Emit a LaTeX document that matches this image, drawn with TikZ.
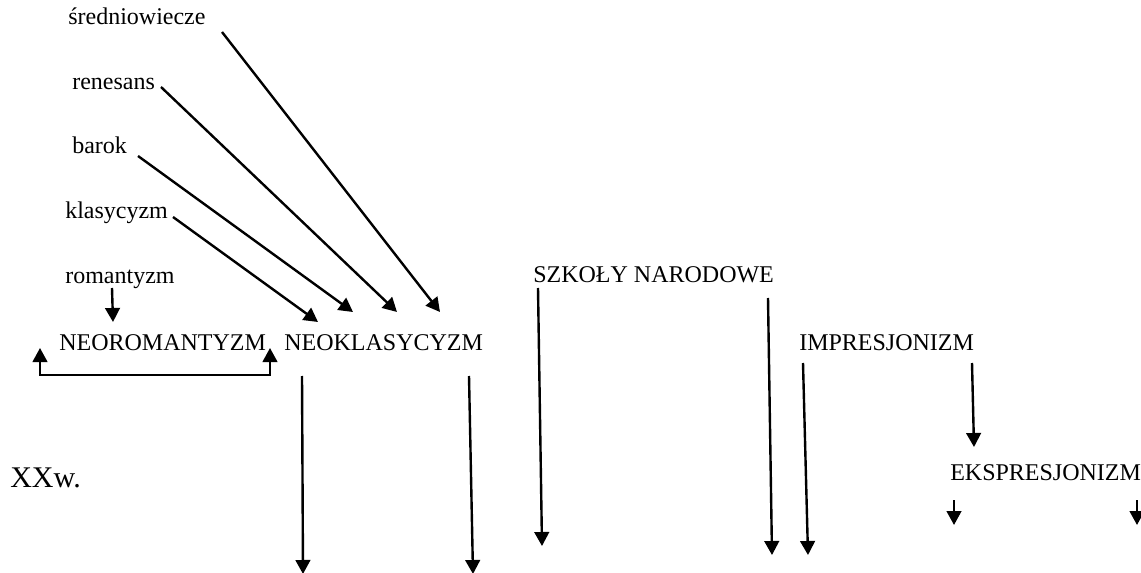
\documentclass[tikz,border=0pt]{standalone}
\usepackage{fontspec}
\setmainfont{Liberation Serif}
\usetikzlibrary{arrows.meta}
\begin{document}
\begin{tikzpicture}[x=0.75pt,y=-0.75pt,
  lbl/.style={anchor=base west,inner sep=0pt,font=\fontsize{18pt}{20pt}\selectfont},
  big/.style={anchor=base west,inner sep=0pt,font=\fontsize{22.5pt}{24pt}\selectfont},
  arr/.style={line width=1.8pt,-{Triangle[length=10.5pt,width=11pt]}},
  brk/.style={line width=1.6pt,{Triangle[length=10.5pt,width=11pt]}-{Triangle[length=10.5pt,width=11pt]}}]
\useasboundingbox (0,0) rectangle (1141,573);
% labels
\node[lbl] (sred) at (68,25) {średniowiecze};
\node[lbl] (ren) at (72,90) {renesans};
\node[lbl] (bar) at (72,154) {barok};
\node[lbl] (klas) at (65,219) {klasycyzm};
\node[lbl] (rom) at (65,284) {romantyzm};
\node[lbl] (neorom) at (59,350) {NEOROMANTYZM};
\node[lbl] (neoklas) at (284,350) {NEOKLASYCYZM};
\node[lbl] (szk) at (533,283) {SZKOŁY NARODOWE};
\node[lbl] (impr) at (799,350) {IMPRESJONIZM};
\node[lbl] (eksp) at (950,480) {EKSPRESJONIZM};
\node[big] (xxw) at (10,487) {XXw.};
% connector end points
\coordinate (sredA) at (222,32);  \coordinate (sredB) at (440,312);
\coordinate (renA) at (161,87);   \coordinate (renB) at (397,312);
\coordinate (barA) at (138,156);  \coordinate (barB) at (353,312);
\coordinate (klasA) at (173,217); \coordinate (klasB) at (318,322);
\coordinate (romA) at (112,288);  \coordinate (romB) at (113,322);
\coordinate (brL) at (40,348);    \coordinate (brLb) at (40,375);
\coordinate (brRb) at (270,375);  \coordinate (brR) at (270,348);
\coordinate (nkLA) at (302,376);  \coordinate (nkLB) at (303,574);
\coordinate (nkRA) at (469,376);  \coordinate (nkRB) at (473,574);
\coordinate (szLA) at (538,288);  \coordinate (szLB) at (542,546);
\coordinate (szRA) at (768,298);  \coordinate (szRB) at (772,555);
\coordinate (imLA) at (803,363);  \coordinate (imLB) at (808,555);
\coordinate (imRA) at (972,363);  \coordinate (imRB) at (974,447);
\coordinate (ekLA) at (954,500);  \coordinate (ekLB) at (954,525);
\coordinate (ekRA) at (1137,500); \coordinate (ekRB) at (1137,525);
% connectors
\draw[arr] (sredA) -- (sredB);
\draw[arr] (renA) -- (renB);
\draw[arr] (barA) -- (barB);
\draw[arr] (klasA) -- (klasB);
\draw[arr] (romA) -- (romB);
\draw[brk] (brL) -- (brLb) -- (brRb) -- (brR);
\draw[arr] (nkLA) -- (nkLB);
\draw[arr] (nkRA) -- (nkRB);
\draw[arr] (szLA) -- (szLB);
\draw[arr] (szRA) -- (szRB);
\draw[arr] (imLA) -- (imLB);
\draw[arr] (imRA) -- (imRB);
\draw[arr] (ekLA) -- (ekLB);
\draw[arr] (ekRA) -- (ekRB);
\end{tikzpicture}
\end{document}
